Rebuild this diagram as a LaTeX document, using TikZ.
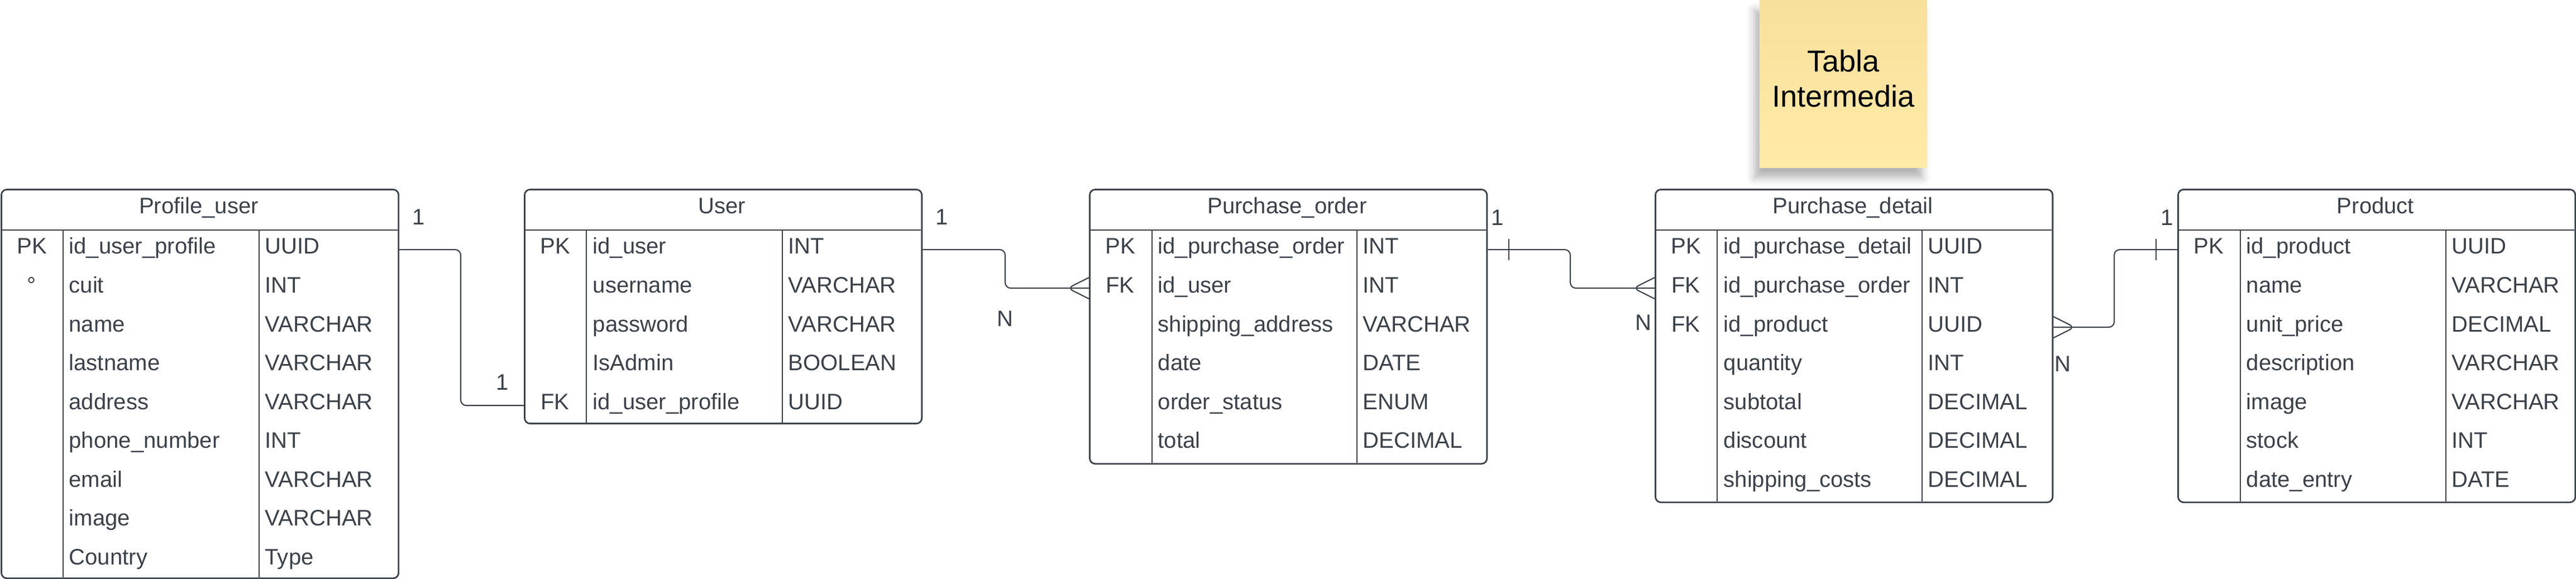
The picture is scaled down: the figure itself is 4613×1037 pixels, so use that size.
\documentclass[tikz,border=0pt]{standalone}
\usepackage{fontspec}
\setmainfont{Liberation Sans}
\usetikzlibrary{shadows.blur}

\definecolor{ink}{HTML}{3B4149}
\definecolor{notetop}{HTML}{F7E09C}
\definecolor{notebot}{HTML}{FFEAA7}
\newcommand{\tblfont}{\fontsize{11.4pt}{13pt}\selectfont}
\newcommand{\notefont}{\fontsize{15.4pt}{17.9pt}\selectfont}

\begin{document}
\begin{tikzpicture}[x=0.01cm, y=-0.01cm,
    tbl/.style={draw=ink, line width=0.8pt, rounded corners=0.1cm, anchor=north west, minimum width=7.11cm, inner sep=0},
    cell/.style={draw=ink, line width=0.6pt},
    ttl/.style={anchor=base, font=\tblfont, text=ink, inner sep=0},
    key/.style={anchor=base, font=\tblfont, text=ink, inner sep=0},
    fld/.style={anchor=base west, font=\tblfont, text=ink, inner sep=0},
    typ/.style={anchor=base west, font=\tblfont, text=ink, inner sep=0},
    rel/.style={draw=ink, line width=0.6pt, rounded corners=0.1cm},
    lbl/.style={font=\tblfont, text=ink, inner sep=0},
    note/.style={top color=notetop, bottom color=notebot, anchor=north west, minimum width=3cm, minimum height=3cm,
        blur shadow={shadow xshift=-2.5pt, shadow yshift=-5pt, shadow blur radius=4pt, shadow opacity=30}}]

\useasboundingbox (0,0) rectangle (4613,1037);

% ============================
% Sticky note
% ============================
\node[note] (note) at (3150,0) {};
\node[align=center, font=\notefont, text=black] (notetext) at (3301,141) {Tabla\\Intermedia};

% ============================
% Profile_user
% ============================
\node[tbl, minimum height=6.96cm] (profile) at (1,338) {};
\draw[cell] (1,412) -- (712,412);
\draw[cell] (113,412) -- (113,1034);
\draw[cell] (464,412) -- (464,1034);
\node[ttl] at (356,383) {Profile\_user};
\node[key] at (57,455) {PK}; \node[fld] at (123,455) {id\_user\_profile}; \node[typ] at (474,455) {UUID};
\node[key] at (57,524.5) {°}; \node[fld] at (123,524.5) {cuit}; \node[typ] at (474,524.5) {INT};
\node[fld] at (123,594) {name}; \node[typ] at (474,594) {VARCHAR};
\node[fld] at (123,663.5) {lastname}; \node[typ] at (474,663.5) {VARCHAR};
\node[fld] at (123,733) {address}; \node[typ] at (474,733) {VARCHAR};
\node[fld] at (123,802.5) {phone\_number}; \node[typ] at (474,802.5) {INT};
\node[fld] at (123,872) {email}; \node[typ] at (474,872) {VARCHAR};
\node[fld] at (123,941.5) {image}; \node[typ] at (474,941.5) {VARCHAR};
\node[fld] at (123,1011) {Country}; \node[typ] at (474,1011) {Type};

% ============================
% User
% ============================
\node[tbl, minimum height=4.19cm] (user) at (938,338) {};
\draw[cell] (938,412) -- (1649,412);
\draw[cell] (1050,412) -- (1050,757);
\draw[cell] (1401,412) -- (1401,757);
\node[ttl] at (1293,383) {User};
\node[key] at (994,455) {PK}; \node[fld] at (1061,455) {id\_user}; \node[typ] at (1411,455) {INT};
\node[fld] at (1061,524.5) {username}; \node[typ] at (1411,524.5) {VARCHAR};
\node[fld] at (1061,594) {password}; \node[typ] at (1411,594) {VARCHAR};
\node[fld] at (1061,663.5) {IsAdmin}; \node[typ] at (1411,663.5) {BOOLEAN};
\node[key] at (994,733) {FK}; \node[fld] at (1061,733) {id\_user\_profile}; \node[typ] at (1411,733) {UUID};

% ============================
% Purchase_order
% ============================
\node[tbl, minimum height=4.91cm] (order) at (1950,338) {};
\draw[cell] (1950,412) -- (2661,412);
\draw[cell] (2063,412) -- (2063,829);
\draw[cell] (2430,412) -- (2430,829);
\node[ttl] at (2305,383) {Purchase\_order};
\node[key] at (2006,455) {PK}; \node[fld] at (2073,455) {id\_purchase\_order}; \node[typ] at (2440,455) {INT};
\node[key] at (2006,524.5) {FK}; \node[fld] at (2073,524.5) {id\_user}; \node[typ] at (2440,524.5) {INT};
\node[fld] at (2073,594) {shipping\_address}; \node[typ] at (2440,594) {VARCHAR};
\node[fld] at (2073,663.5) {date}; \node[typ] at (2440,663.5) {DATE};
\node[fld] at (2073,733) {order\_status}; \node[typ] at (2440,733) {ENUM};
\node[fld] at (2073,802.5) {total}; \node[typ] at (2440,802.5) {DECIMAL};

% ============================
% Purchase_detail
% ============================
\node[tbl, minimum height=5.6cm] (detail) at (2963,338) {};
\draw[cell] (2963,412) -- (3674,412);
\draw[cell] (3075,412) -- (3075,898);
\draw[cell] (3442,412) -- (3442,898);
\node[ttl] at (3318,383) {Purchase\_detail};
\node[key] at (3019,455) {PK}; \node[fld] at (3086,455) {id\_purchase\_detail}; \node[typ] at (3452,455) {UUID};
\node[key] at (3019,524.5) {FK}; \node[fld] at (3086,524.5) {id\_purchase\_order}; \node[typ] at (3452,524.5) {INT};
\node[key] at (3019,594) {FK}; \node[fld] at (3086,594) {id\_product}; \node[typ] at (3452,594) {UUID};
\node[fld] at (3086,663.5) {quantity}; \node[typ] at (3452,663.5) {INT};
\node[fld] at (3086,733) {subtotal}; \node[typ] at (3452,733) {DECIMAL};
\node[fld] at (3086,802.5) {discount}; \node[typ] at (3452,802.5) {DECIMAL};
\node[fld] at (3086,872) {shipping\_costs}; \node[typ] at (3452,872) {DECIMAL};

% ============================
% Product
% ============================
\node[tbl, minimum height=5.6cm] (product) at (3899,338) {};
\draw[cell] (3899,412) -- (4610,412);
\draw[cell] (4012,412) -- (4012,898);
\draw[cell] (4380,412) -- (4380,898);
\node[ttl] at (4254,383) {Product};
\node[key] at (3955,455) {PK}; \node[fld] at (4022,455) {id\_product}; \node[typ] at (4390,455) {UUID};
\node[fld] at (4022,524.5) {name}; \node[typ] at (4390,524.5) {VARCHAR};
\node[fld] at (4022,594) {unit\_price}; \node[typ] at (4390,594) {DECIMAL};
\node[fld] at (4022,663.5) {description}; \node[typ] at (4390,663.5) {VARCHAR};
\node[fld] at (4022,733) {image}; \node[typ] at (4390,733) {VARCHAR};
\node[fld] at (4022,802.5) {stock}; \node[typ] at (4390,802.5) {INT};
\node[fld] at (4022,872) {date\_entry}; \node[typ] at (4390,872) {DATE};

% Ports
\coordinate (profile-pk) at ([yshift=-1.09cm]profile.north east);
\coordinate (user-fk)    at ([yshift=-3.88cm]user.north west);
\coordinate (user-pk)    at ([yshift=-1.09cm]user.north east);
\coordinate (order-fk)   at ([yshift=-1.78cm]order.north west);
\coordinate (order-pk)   at ([yshift=-1.09cm]order.north east);
\coordinate (detail-fk1) at ([yshift=-1.78cm]detail.north west);
\coordinate (detail-fk2) at ([yshift=-2.48cm]detail.north east);
\coordinate (product-pk) at ([yshift=-1.09cm]product.north west);

% ============================
% Profile_user -- User (1:1)
% ============================
\draw[rel] (profile-pk) -| (825,586) |- (user-fk);
\node[lbl] at (750,389) {1};
\node[lbl] at (900,685) {1};

% ============================
% User -- Purchase_order (1:N)
% ============================
\draw[rel] (user-pk) -| (1800,480) |- (order-fk);
\draw[rel] (order-fk) ++(0,-19) -- ++(-38,19) -- ++(38,19);
\node[lbl] at (1687,389) {1};
\node[lbl] at (1800,571) {N};

% ============================
% Purchase_order -- Purchase_detail (1:N)
% ============================
\draw[rel] (order-pk) -| (2812,480) |- (detail-fk1);
\draw[rel] (order-pk) ++(38,-19) -- ++(0,38);
\draw[rel] (detail-fk1) ++(0,-19) -- ++(-38,19) -- ++(38,19);
\node[lbl] at (2682,390) {1};
\node[lbl] at (2943,578) {N};

% ============================
% Purchase_detail -- Product (N:1)
% ============================
\draw[rel] (detail-fk2) -| (3786,516) |- (product-pk);
\draw[rel] (detail-fk2) ++(0,-19) -- ++(38,19) -- ++(-38,19);
\draw[rel] (product-pk) ++(-38,-19) -- ++(0,38);
\node[lbl] at (3881,390) {1};
\node[lbl] at (3694,652) {N};

\end{tikzpicture}
\end{document}
